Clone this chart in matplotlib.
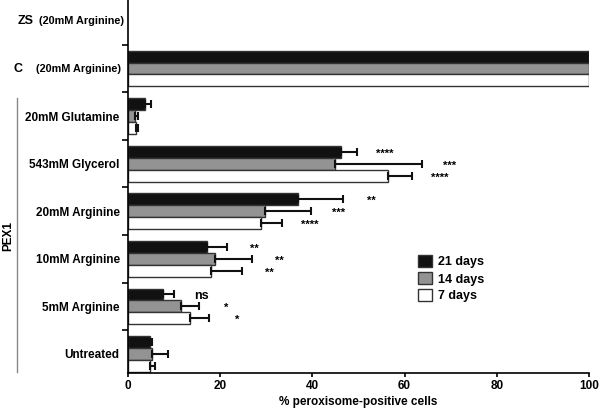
import matplotlib
matplotlib.use("Agg")
import matplotlib.pyplot as plt
import matplotlib.transforms as mtransforms
from matplotlib.patches import Patch
import numpy as np

plt.rcParams['font.family'] = ['Liberation Sans', 'DejaVu Sans']

categories = ['ZS', 'C', '20mM Glutamine', '543mM Glycerol', '20mM Arginine',
              '10mM Arginine', '5mM Arginine', 'Untreated']
d21 = [0, 100, 3.7, 46.1, 36.9, 17.1, 7.6, 4.8]
d21_err = [0, 0, 1.3, 3.6, 9.8, 4.3, 2.4, 0.4]
d14 = [0, 100, 1.5, 44.8, 29.7, 18.9, 11.6, 5.1]
d14_err = [0, 0, 0.7, 18.9, 9.9, 7.9, 3.8, 3.6]
d7 = [0, 100, 1.7, 56.3, 28.9, 18.0, 13.4, 4.8]
d7_err = [0, 0, 0.4, 5.4, 4.6, 6.7, 4.2, 1.1]
sig21 = ['', '', '', '****', '**', '**', 'ns', '']
sig14 = ['', '', '', '***', '***', '**', '*', '']
sig7 = ['', '', '', '****', '****', '**', '*', '']
series_labels = ['21 days', '14 days', '7 days']
xticks = [0, 20, 40, 60, 80, 100]

fig = plt.figure(figsize=(6.0, 4.09), dpi=100)
ax = fig.add_axes([128/600, 36/409, 461/600, 373/409])

y = np.arange(len(categories))
h = 0.25
colors = ['#111111', '#939393', '#ffffff']
series = [(d21, d21_err, sig21), (d14, d14_err, sig14), (d7, d7_err, sig7)]
offsets = [-h, 0, h]
for (vals, errs, sigs), off, col in zip(series, offsets, colors):
    vals = np.array(vals, float)
    errs = np.array(errs, float)
    yy = y + off
    mask = vals > 0
    ax.barh(yy[mask], vals[mask], height=h, color=col, edgecolor='#333333',
            linewidth=1.0, zorder=2)
    em = errs > 0
    ax.errorbar(vals[em], yy[em], xerr=[np.zeros(em.sum()), errs[em]], fmt='none',
                ecolor='#111111', elinewidth=1.5, capsize=3, capthick=1.5, zorder=3)
    for yi, v, e, s in zip(yy, vals, errs, sigs):
        if s:
            ax.text(v + e + 6, yi + 0.04, s, ha='center', va='center',
                    fontsize=8 if s != 'ns' else 9, fontweight='bold')

ax.set_xlim(0, 100)
ax.set_ylim(7.4, -0.44)
ax.spines['top'].set_visible(False)
ax.spines['right'].set_visible(False)
ax.spines['left'].set_linewidth(1.2)
ax.spines['bottom'].set_linewidth(1.2)

ax.set_xticks(xticks)
ax.set_xticklabels([str(t) for t in xticks], fontweight='bold', fontsize=8.5)
ax.tick_params(axis='x', length=3, width=1.2, direction='out', pad=2)

ax.set_yticks(y)
labels = ['', ''] + categories[2:]
ax.set_yticklabels(labels, fontweight='bold', fontsize=8.5)
ax.tick_params(axis='y', which='major', length=0, pad=6)
ax.set_yticks(np.arange(0.5, len(categories) - 0.5, 1), minor=True)
ax.tick_params(axis='y', which='minor', length=4, width=1.2, direction='out')

trans = mtransforms.blended_transform_factory(ax.transAxes, ax.transData)
ax.annotate('(20mM Arginine)', xy=(0, 0), xycoords=trans, xytext=(-3, 0),
            textcoords='offset points', ha='right', va='center',
            fontsize=7.8, fontweight='bold')
ax.annotate('ZS', xy=(0, 0), xycoords=trans, xytext=(-68, 0),
            textcoords='offset points', ha='right', va='center',
            fontsize=9, fontweight='bold')
ax.annotate('(20mM Arginine)', xy=(0, 1), xycoords=trans, xytext=(-5, 0),
            textcoords='offset points', ha='right', va='center',
            fontsize=7.8, fontweight='bold')
ax.annotate('C', xy=(0, 1), xycoords=trans, xytext=(-76, 0),
            textcoords='offset points', ha='right', va='center',
            fontsize=9, fontweight='bold')

ax.set_xlabel('% peroxisome-positive cells', fontweight='bold', fontsize=8.5,
              labelpad=3)

# PEX1 bracket
fig.add_artist(plt.Line2D([17/600, 17/600], [1 - 98/409, 1 - 372/409],
                          color='#888888', linewidth=1.0))
fig.text(8/600, 1 - 236/409, 'PEX1', rotation=90, ha='center', va='center',
         fontsize=8.5, fontweight='bold')

handles = [Patch(facecolor=c, edgecolor='#333333', linewidth=1.0) for c in colors]
leg = ax.legend(handles, series_labels, loc='upper left',
                bbox_to_anchor=(412/600, 1 - 249/409), bbox_transform=fig.transFigure,
                frameon=False, prop={'weight': 'bold', 'size': 9},
                handlelength=1.1, handleheight=1.1, handletextpad=0.5,
                labelspacing=0.3, borderpad=0)

fig.savefig('out.png', dpi=100)
